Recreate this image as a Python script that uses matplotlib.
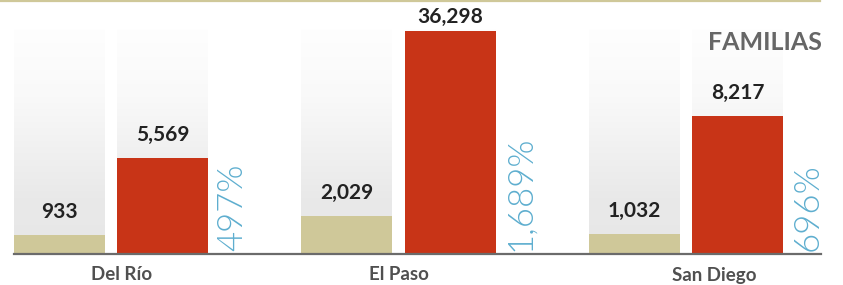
import numpy as np
import matplotlib.pyplot as plt
from matplotlib.colors import LinearSegmentedColormap
from matplotlib.lines import Line2D

ciudades = ["Del Río", "El Paso", "San Diego"]
antes = [933, 2029, 1032]
despues = [5569, 36298, 8217]
cambio = ["497%", "1,689%", "696%"]

tan = "#cfc899"
rojo = "#c83417"
azul = "#5eaecf"
plt.rcParams['font.family'] = ['Lato', 'DejaVu Sans']

# the print graphic is not to scale: slightly compressed, and strongly
# squeezed above ~10,000 so El Paso fits
expo = 0.922
corte = 10000
factor = 0.0648


def fwd(v):
    v = np.asarray(v, dtype=float)
    low = np.sign(v) * np.abs(v) ** expo
    return np.where(v <= corte, low, corte ** expo + (v - corte) * factor)


def inv(u):
    u = np.asarray(u, dtype=float)
    low = np.sign(u) * np.abs(u) ** (1 / expo)
    return np.where(u <= corte ** expo, low, corte + (u - corte ** expo) / factor)


fig = plt.figure(figsize=(8.43, 2.85), dpi=100)
pos = [14 / 843, 31 / 285, 807 / 843, 225 / 285]
x = np.arange(len(ciudades))
w = 0.3165
d = 0.18
xlim = (-0.3374, 2.4696)

# grey fading columns behind every bar
bg = fig.add_axes(pos, zorder=0)
cmap = LinearSegmentedColormap.from_list(
    "fondo", [(0, "#fefefe"), (0.3, "#f9f9f9"), (0.75, "#e9e9e9"), (1, "#e7e7e7")])
grad = np.linspace(0, 1, 200).reshape(-1, 1)
for xi in x:
    for dx in (-d, d):
        bg.imshow(grad, extent=(xi + dx - w / 2, xi + dx + w / 2, 0, 1),
                  cmap=cmap, aspect='auto', origin='upper', vmin=0, vmax=1)
bg.set_xlim(xlim)
bg.set_ylim(0, 1)
bg.axis('off')

ax = fig.add_axes(pos, zorder=1)
ax.patch.set_alpha(0)
ax.set_yscale('function', functions=(fwd, inv))
ax.bar(x - d, antes, w, color=tan)
ax.bar(x + d, despues, w, color=rojo)
ax.set_xlim(xlim)
ax.set_ylim(0, max(despues) * 1.0255)

for xi, a, b, p in zip(x, antes, despues, cambio):
    ax.annotate(f"{a:,}", (xi - d, a), xytext=(0, 9.4), textcoords='offset points',
                ha='center', va='bottom', fontsize=15, fontweight='bold', color='#222222')
    off = 2.9 if b == max(despues) else 9.4
    ax.annotate(f"{b:,}", (xi + d, b), xytext=(0, off), textcoords='offset points',
                ha='center', va='bottom', fontsize=15, fontweight='bold', color='#222222')
    ax.annotate(p, (xi + d + w / 2, 0), xytext=(6, 2), textcoords='offset points',
                rotation=90, ha='left', va='bottom', fontsize=25, fontweight=300,
                color=azul)

for s in ['top', 'right', 'left']:
    ax.spines[s].set_visible(False)
ax.spines['bottom'].set_color('#6b6b6b')
ax.spines['bottom'].set_linewidth(1.6)
ax.set_yticks([])
ax.minorticks_off()
ax.set_xticks(x + np.array([0.035, 0.0, 0.099]))
ax.set_xticklabels(ciudades, fontsize=13.5, fontweight='bold', color='#505050')
ax.tick_params(axis='x', length=0, pad=9)

fig.text(822 / 843, 1 - 31 / 285, "FAMILIAS", ha='right', va='top',
         fontsize=18, fontweight='bold', color='#666666')
fig.add_artist(Line2D([0, 820 / 843], [1 - 0.8 / 285] * 2, transform=fig.transFigure,
                      color=tan, lw=1.6))

fig.savefig("out.png", dpi=100)
